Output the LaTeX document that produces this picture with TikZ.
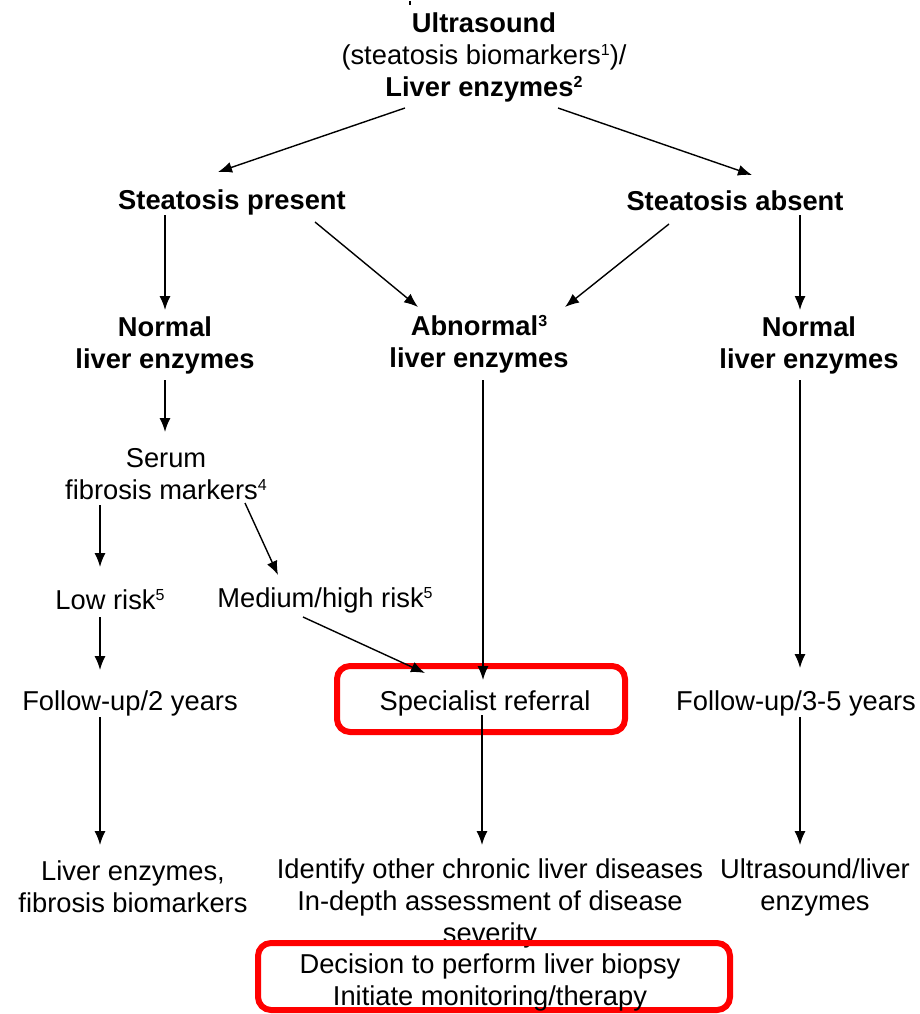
\documentclass[tikz,border=0pt]{standalone}
\usepackage{fontspec}
\setmainfont{Liberation Sans}
\usetikzlibrary{arrows.meta,calc}
\newcommand\supr[1]{\raisebox{0.62ex}{\fontsize{16}{16}\selectfont #1}}
\tikzset{
  lbl/.style={font=\fontsize{27.3}{32}\selectfont, align=center, inner sep=0pt},
  hd/.style={lbl, font=\fontsize{27.3}{32}\selectfont\bfseries},
  arr/.style={-{Latex[length=14pt,width=11pt]}, line width=1.4pt},
  redbox/.style={draw=red, line width=6pt, rounded corners=13pt, inner sep=0pt}
}
\begin{document}
\begin{tikzpicture}[x=1pt,y=-1pt]
\useasboundingbox (0,0) rectangle (920,1014);
\draw[line width=2pt] (410,1) -- (410,5);
% nodes
\node[hd] (top) at (484,57) {Ultrasound\\{\mdseries (steatosis biomarkers\supr{1})/}\\Liver enzymes\supr{2}};
\node[hd] (sp) at (232,202) {Steatosis present};
\node[hd] (sa) at (735,201) {Steatosis absent};
\node[hd] (nl) at (165,345) {Normal\\liver enzymes};
\node[hd] (ab) at (479,344) {Abnormal\supr{3}\\liver enzymes};
\node[hd] (nr) at (809,345) {Normal\\liver enzymes};
\node[lbl] (sf) at (166,474) {Serum\\fibrosis markers\supr{4}};
\node[lbl] (lr) at (110,600) {Low risk\supr{5}};
\node[lbl] (mr) at (325,600) {Medium/high risk\supr{5}};
\node[lbl] (f2) at (130,703) {Follow-up/2 years};
\node[lbl] (f35) at (796,703) {Follow-up/3-5 years};
\node[lbl] (le) at (133,887) {Liver enzymes,\\fibrosis biomarkers};
\node[lbl] (id) at (490,903) {Identify other chronic liver diseases\\In-depth assessment of disease\\severity};
\node[lbl] (ul) at (815,887) {Ultrasound/liver\\enzymes};
\node[redbox, minimum width=288pt, minimum height=66pt] (ref) at (481,699) {};
\node[lbl] (reft) at (485,703) {Specialist referral};
\node[redbox, minimum width=472pt, minimum height=67pt] (dec) at (494,976.5) {};
\node[lbl] (dect) at (490,982) {Decision to perform liver biopsy\\Initiate monitoring/therapy};
% connectors
\draw[arr] ($(top)+(-79,51)$) -- ($(sp)+(-14,-30)$);
\draw[arr] ($(top)+(74,51)$) -- ($(sa)+(17,-26)$);
\draw[arr] ($(sp)+(-67,13)$) -- ($(nl)+(0,-35)$);
\draw[arr] ($(sp)+(83,20)$) -- ($(ab)+(-61,-37)$);
\draw[arr] ($(sa)+(-66,23)$) -- ($(ab)+(86,-37)$);
\draw[arr] ($(sa)+(65,14)$) -- ($(nr)+(-9,-35)$);
\draw[arr] ($(ab)+(4,36)$) -- ($(ref)+(2,-19)$);
\draw[arr] ($(mr)+(-22,17)$) -- ($(ref)+(-56,-26)$);
\draw[arr] ($(nl)+(0,35)$) -- ($(sf)+(-1,-42)$);
\draw[arr] ($(sf)+(-66,31)$) -- ($(lr)+(-10,-33)$);
\draw[arr] ($(sf)+(79,29)$) -- ($(mr)+(-47,-25)$);
\draw[arr] ($(lr)+(-10,17)$) -- ($(f2)+(-30,-33)$);
\draw[arr] ($(f2)+(-30,14)$) -- ($(le)+(-33,-42)$);
\draw[arr] ($(ref)+(1,16)$) -- ($(id)+(-8,-58)$);
\draw[arr] ($(nr)+(-9,35)$) -- ($(f35)+(4,-35)$);
\draw[arr] ($(f35)+(4,14)$) -- ($(ul)+(-15,-42)$);
\end{tikzpicture}
\end{document}
